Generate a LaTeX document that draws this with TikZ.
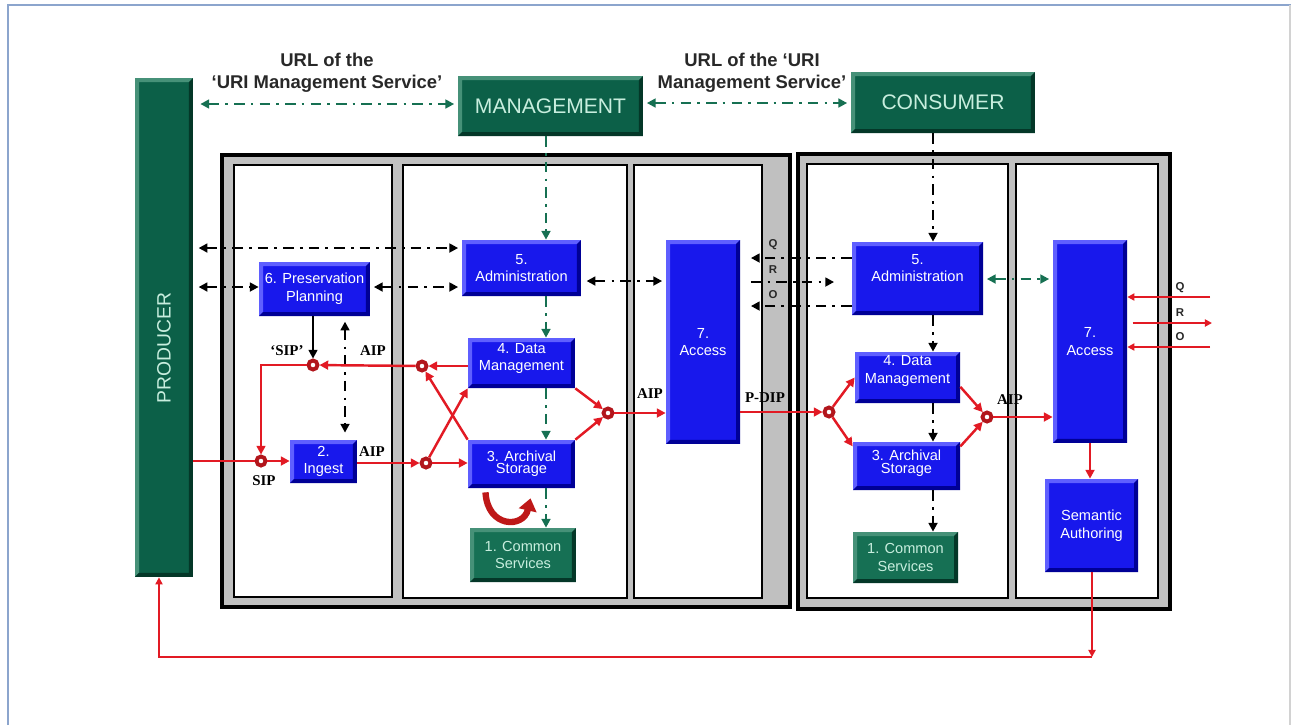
\documentclass[tikz,border=0pt]{standalone}
\usepackage{fontspec}
\setmainfont{Liberation Sans}
\newfontfamily\timesfont{Liberation Serif}
\usetikzlibrary{arrows.meta,calc}

\definecolor{boxblue}{RGB}{24,24,236}
\definecolor{boxlight}{RGB}{95,95,255}
\definecolor{boxdark}{RGB}{0,0,150}
\definecolor{darkgreen}{RGB}{12,96,72}
\definecolor{greenlight}{RGB}{70,145,120}
\definecolor{greendark}{RGB}{4,55,40}
\definecolor{csgreen}{RGB}{22,112,84}
\definecolor{mint}{RGB}{200,238,222}
\definecolor{flowred}{RGB}{226,26,36}
\definecolor{ringred}{RGB}{178,22,28}
\definecolor{loopred}{RGB}{190,24,24}
\definecolor{panelgray}{RGB}{192,192,192}
\definecolor{dashgreen}{RGB}{22,112,82}
\definecolor{framebl}{RGB}{140,165,205}
\definecolor{labelgray}{RGB}{40,40,40}

\tikzset{
  bevel/.style 2 args={path picture={
      \path (path picture bounding box.south west) ++(4,-4) coordinate (bvA)
            (path picture bounding box.north east) ++(-4,4) coordinate (bvB);
      \fill[#1] (path picture bounding box.south west) -- (path picture bounding box.north west)
        -- (path picture bounding box.north east) -- (bvB) -- (bvA |- bvB) -- (bvA) -- cycle;
      \fill[#2] (path picture bounding box.south west) -- (path picture bounding box.south east)
        -- (path picture bounding box.north east) -- (bvB) -- (bvB |- bvA) -- (bvA) -- cycle;
  }},
  blk/.style={rectangle, inner sep=0pt, align=center},
  bluebox/.style={blk, fill=boxblue, bevel={boxlight}{boxdark}, text=white,
    font=\fontsize{8.3}{10}\selectfont},
  tightbox/.style={bluebox, font=\fontsize{8.3}{7}\selectfont},
  greenbox/.style={blk, fill=csgreen, bevel={greenlight}{greendark}, text=mint,
    font=\fontsize{8.3}{10}\selectfont},
  headbox/.style={blk, fill=darkgreen, bevel={greenlight}{greendark}, text=mint,
    font=\fontsize{12}{14}\selectfont},
  ring/.style={circle, draw=ringred, line width=2.2pt, fill=white,
    minimum size=0.18cm, inner sep=0pt},
  flow/.style={draw=flowred, line width=1.4pt, -{Triangle[length=5pt,width=5pt]}},
  flowplain/.style={draw=flowred, line width=1.4pt},
  thinflow/.style={draw=flowred, line width=1pt, -{Triangle[length=4pt,width=4pt]}},
  ctl/.style={draw=black, line width=1.5pt, dash pattern=on 6pt off 3.5pt on 1.5pt off 3.5pt},
  mgt/.style={ctl, draw=dashgreen},
  fwd/.style={-{Triangle[length=5pt,width=5pt]}},
  two/.style={{Triangle[length=5pt,width=5pt]}-{Triangle[length=5pt,width=5pt]}},
  pkt/.style={font=\timesfont\bfseries\fontsize{8.5}{10}\selectfont},
  qro/.style={font=\bfseries\fontsize{6.5}{8}\selectfont, text=labelgray},
  urltext/.style={font=\bfseries\fontsize{10.5}{12.5}\selectfont, text=labelgray, align=center}
}

\begin{document}
\begin{tikzpicture}[x=0.02cm, y=-0.02cm]
\useasboundingbox (0,0) rectangle (1291,725);
\fill[white] (0,0) rectangle (1291,725);

% page frame
\draw[framebl, line width=1.1pt] (8,725) -- (8,5) -- (1291,5);
\draw[gray!35, line width=0.8pt] (1290,5) -- (1290,725);

% archive containers and their columns
\draw[line width=1.8pt, fill=panelgray] (222,155) rectangle (790,607);
\draw[line width=1.8pt, fill=panelgray] (798,154) rectangle (1170,609);
\draw[line width=0.9pt, fill=white] (234,165) rectangle (392,597);
\draw[line width=0.9pt, fill=white] (403,165) rectangle (627,598);
\draw[line width=0.9pt, fill=white] (634,165) rectangle (762,598);
\draw[line width=0.9pt, fill=white] (807,164) rectangle (1008,598);
\draw[line width=0.9pt, fill=white] (1016,164) rectangle (1158,598);

% actors
\node[headbox, minimum width=1.16cm, minimum height=9.98cm] (producer) at (164,327.5) {};
\node[text=mint, rotate=90, font=\fontsize{11}{13}\selectfont] (producerText) at (164,348) {PRODUCER};
\node[headbox, minimum width=3.70cm, minimum height=1.20cm] (mgmt) at (550.5,106) {MANAGEMENT};
\node[headbox, minimum width=3.68cm, minimum height=1.22cm] (consumer) at (943,102.5) {CONSUMER};

% first archive
\node[bluebox, minimum width=2.22cm, minimum height=1.08cm] (pp) at (314.5,289) {6. Preservation\\Planning};
\node[bluebox, minimum width=1.34cm, minimum height=0.86cm] (ingest) at (323.5,461.5) {2.\\Ingest};
\node[bluebox, minimum width=2.38cm, minimum height=1.12cm] (admL) at (521.5,268) {5.\\Administration};
\node[bluebox, minimum width=2.14cm, minimum height=1.00cm, text depth=7pt] (dmL) at (521.5,363) {4. Data\\Management};
\node[tightbox, minimum width=2.14cm, minimum height=0.96cm] (asL) at (521.5,464) {3. Archival\\Storage};
\node[greenbox, minimum width=2.12cm, minimum height=1.08cm] (csL) at (523,555) {1. Common\\Services};
\node[bluebox, minimum width=1.48cm, minimum height=4.08cm] (accL) at (703,342) {7.\\Access};

% second archive
\node[bluebox, minimum width=2.62cm, minimum height=1.46cm, text depth=12pt] (admR) at (917.5,278.5) {5.\\Administration};
\node[bluebox, minimum width=2.10cm, minimum height=1.02cm, text depth=9pt] (dmR) at (907.5,377.5) {4. Data\\Management};
\node[tightbox, minimum width=2.14cm, minimum height=0.96cm, text depth=5pt] (asR) at (906.5,466) {3. Archival\\Storage};
\node[greenbox, minimum width=2.10cm, minimum height=1.02cm] (csR) at (905.5,557.5) {1. Common\\Services};
\node[bluebox, minimum width=1.48cm, minimum height=4.06cm] (accR) at (1090,341.5) {7.\\Access};
\node[bluebox, minimum width=1.86cm, minimum height=1.86cm] (sem) at (1091.5,525.5) {Semantic\\Authoring};

% junctions of the package flows
\node[ring] (cSIP) at (261,461) {};
\node[ring] (cSIPq) at (313,365) {};
\node[ring] (cA) at (422,366) {};
\node[ring] (cB) at (426,463) {};
\node[ring] (cC) at (608,413) {};
\node[ring] (cD) at (829,412) {};
\node[ring] (cE) at (987,417) {};

% reference levels for straight connectors
\coordinate (yUrlL) at (0,104);
\coordinate (yUrlR) at (0,103);
\coordinate (yTop) at (0,248);
\coordinate (yMid) at (0,287);
\coordinate (yAdmAcc) at (0,281);
\coordinate (yQ) at (0,258);
\coordinate (yR) at (0,282);
\coordinate (yO) at (0,306);
\coordinate (yG) at (0,279);
\coordinate (xMg) at (546,0);
\coordinate (xCo) at (933,0);
\coordinate (xPP) at (345,0);
\coordinate (qIn) at (1210,297);
\coordinate (rOut) at (1212,323);
\coordinate (oIn) at (1210,347);
\coordinate (loopR) at (1092,657);
\coordinate (loopL) at (159,657);

% URL exchange with the URI management service
\draw[mgt, two, shorten <=4pt, shorten >=2pt] (yUrlL -| producer.east) -- (yUrlL -| mgmt.west);
\draw[mgt, two, shorten <=2pt, shorten >=2pt] (yUrlR -| mgmt.east) -- (yUrlR -| consumer.west);
\node[urltext] (urlL) at (327,73) {URL of the\\‘URI Management Service’};
\node[urltext] (urlR) at (752,73) {URL of the ‘URI\\Management Service’};

% management chain of the first archive
\draw[mgt, fwd] (xMg |- mgmt.south) -- (xMg |- admL.north);
\draw[mgt, fwd] (xMg |- admL.south) -- (xMg |- dmL.north);
\draw[mgt, fwd] (xMg |- dmL.south) -- (xMg |- asL.north);
\draw[mgt, fwd] (xMg |- asL.south) -- (xMg |- csL.north);

% control flows of the first archive
\draw[ctl, two, shorten <=3pt, shorten >=2pt] (yTop -| producer.east) -- (yTop -| admL.west);
\draw[ctl, two, shorten <=3pt] (yMid -| producer.east) -- (yMid -| pp.west);
\draw[ctl, two, shorten <=2pt, shorten >=2pt] (yMid -| pp.east) -- (yMid -| admL.west);
\draw[ctl, two, shorten <=3pt, shorten >=2pt] (yAdmAcc -| admL.east) -- (yAdmAcc -| accL.west);
\draw[draw=black, line width=1.4pt, fwd] (cSIPq |- pp.south) -- (cSIPq.north);
\draw[ctl, two, shorten <=3pt, shorten >=4pt] (xPP |- pp.south) -- (xPP |- ingest.north);

% query, result and order between the archives
\draw[ctl, fwd, shorten >=6pt] (yQ -| admR.west) -- (yQ -| accL.east);
\draw[ctl, fwd, shorten <=6pt, shorten >=10pt] (yR -| accL.east) -- (yR -| admR.west);
\draw[ctl, fwd, shorten >=6pt] (yO -| admR.west) -- (yO -| accL.east);

% control flows of the second archive
\draw[ctl, fwd] (xCo |- consumer.south) -- (xCo |- admR.north);
\draw[ctl, fwd] (xCo |- admR.south) -- (xCo |- dmR.north);
\draw[ctl, fwd] (xCo |- dmR.south) -- (xCo |- asR.north);
\draw[ctl, fwd] (xCo |- asR.south) -- (xCo |- csR.north);
\draw[mgt, two, shorten <=2pt, shorten >=2pt] (yG -| admR.east) -- (yG -| accR.west);

% package flows of the first archive
\draw[flowplain] (cSIP -| producer.east) -- (cSIP);
\draw[flow] (cSIP) -- (cSIP -| ingest.west);
\draw[flow] (cSIPq) -| (cSIP);
\draw[flow] (cA) -- (cSIPq);
\draw[flow] (cA -| dmL.west) -- (cA);
\draw[flow] (cB -| ingest.east) -- (cB);
\draw[flow] (cB) -- (cB -| asL.west);
\draw[flow] (cB) -- (dmL.south west);
\draw[flow] (asL.north west) -- (cA);
\draw[flow] (dmL.south east) -- (cC);
\draw[flow] (asL.north east) -- (cC);
\draw[flow] (cC) -- (cC -| accL.west);
\draw[loopred, line width=3.6pt, -{Triangle[length=7pt,width=10pt]}]
  ($(asL.south)+(-36,4)$) .. controls ($(asL.south)+(-34,40)$) and ($(asL.south)+(2,40)$) .. ($(asL.south)+(9,10)$);

% package flows of the second archive
\draw[flow] (cD -| accL.east) -- (cD);
\draw[flow] (cD) -- (dmR.west);
\draw[flow] (cD) -- (asR.160);
\draw[flow] (dmR.-10) -- (cE);
\draw[flow] (asR.20) -- (cE);
\draw[flow] (cE) -- (cE -| accR.west);
\draw[flow] (accR.south) -- (accR.south |- sem.north);
\draw[thinflow] (qIn) -- (qIn -| accR.east);
\draw[thinflow, shorten <=3pt] (rOut -| accR.east) -- (rOut);
\draw[thinflow] (oIn) -- (oIn -| accR.east);
\draw[thinflow] (sem.south -| loopR) -- (loopR);
\draw[thinflow] (loopR) -- (loopL) -- (loopL |- producer.south);

% package names
\node[pkt] (lSIP) at (264,481) {SIP};
\node[pkt] (lSIPq) at (287,351) {‘SIP’};
\node[pkt] (lAIPpp) at (373,351) {AIP};
\node[pkt] (lAIPin) at (372,452) {AIP};
\node[pkt] (lAIPacc) at (650,394) {AIP};
\node[pkt] (lPDIP) at (765,398) {P-DIP};
\node[pkt] (lAIPr) at (1010,400) {AIP};

% query / result / order marks
\node[qro] (q1) at (773,245) {Q};
\node[qro] (r1) at (773,270) {R};
\node[qro] (o1) at (773,295) {O};
\node[qro] (q2) at (1180,288) {Q};
\node[qro] (r2) at (1180,313) {R};
\node[qro] (o2) at (1180,337) {O};
\end{tikzpicture}
\end{document}
